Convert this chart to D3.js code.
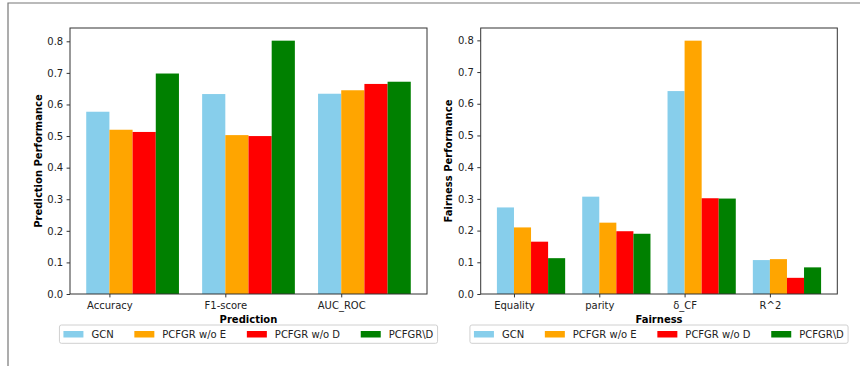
<!DOCTYPE html>
<html>
<head>
<meta charset="utf-8">
<script src="https://cdn.jsdelivr.net/npm/d3@7"></script>
<style>
  html, body { margin: 0; padding: 0; background: #fff; }
  svg { display: block; font-family: "DejaVu Sans", sans-serif; }
  .axis text { font-family: "DejaVu Sans", sans-serif; font-size: 10px; fill: #222; }
  .axis path, .axis line { stroke: #333; }
  .label { font-size: 10px; font-weight: bold; fill: #000; }
  .legend text { font-size: 10px; fill: #222; }
</style>
</head>
<body>
<svg id="chart" width="860" height="366"></svg>
<script>
(function () {
  "use strict";

  const models = ["GCN", "PCFGR w/o E", "PCFGR w/o D", "PCFGR\\D"];
  const colors = ["#87ceeb", "#ffa500", "#ff0000", "#008000"];

  const predMetrics = ["Accuracy", "F1-score", "AUC_ROC"];
  const predValues = [
    [0.577, 0.633, 0.634],
    [0.520, 0.503, 0.645],
    [0.513, 0.500, 0.665],
    [0.698, 0.802, 0.672]
  ];

  const fairMetrics = ["Equality", "parity", "\u03b4_CF", "R^2"];
  const fairValues = [
    [0.273, 0.307, 0.640, 0.107],
    [0.210, 0.225, 0.799, 0.110],
    [0.165, 0.198, 0.302, 0.051],
    [0.113, 0.190, 0.301, 0.084]
  ];

  const yTicks = [0, 0.1, 0.2, 0.3, 0.4, 0.5, 0.6, 0.7, 0.8];

  const svg = d3.select("#chart");

  // outer frame of the figure
  svg.append("path")
    .attr("d", "M8,366V3H860")
    .attr("fill", "none")
    .attr("stroke", "#777")
    .attr("stroke-width", 1.2);

  function panel(opts) {
    const { left, right, top, bottom, metrics, values, xTitle, yTitle, yTitleX } = opts;
    const barW = 0.2;
    const n = metrics.length;
    const lo = -barW, hi = (n - 1) + 3 * barW;
    const pad = (hi - lo) * 0.05;
    const x = d3.scaleLinear().domain([lo - pad, hi + pad]).range([left, right]);
    const yMax = d3.max(values.flat()) * 1.05;
    const y = d3.scaleLinear().domain([0, yMax]).range([bottom, top]);

    const g = svg.append("g");

    values.forEach((series, k) => {
      g.append("g")
        .selectAll("rect")
        .data(series)
        .join("rect")
        .attr("x", (d, i) => x(i + (k - 1) * barW))
        .attr("width", x(barW) - x(0))
        .attr("y", d => y(d))
        .attr("height", d => y(0) - y(d))
        .attr("fill", colors[k]);
    });

    g.append("g")
      .attr("class", "axis")
      .attr("transform", `translate(0,${bottom})`)
      .call(d3.axisBottom(x).tickValues(d3.range(n)).tickFormat(i => metrics[i]).tickSize(3.4).tickPadding(4.3).tickSizeOuter(0))
      .call(a => a.select(".domain").remove());

    g.append("g")
      .attr("class", "axis")
      .attr("transform", `translate(${left},0)`)
      .call(d3.axisLeft(y).tickValues(yTicks).tickFormat(d3.format(".1f")).tickSize(3.4).tickPadding(3.4).tickSizeOuter(0))
      .call(a => a.select(".domain").remove());

    g.append("rect")
      .attr("x", left).attr("y", top)
      .attr("width", right - left).attr("height", bottom - top)
      .attr("fill", "none")
      .attr("stroke", "#333")
      .attr("stroke-width", 1);

    g.append("text")
      .attr("class", "label")
      .attr("x", (left + right) / 2)
      .attr("y", 323)
      .attr("text-anchor", "middle")
      .text(xTitle);

    g.append("text")
      .attr("class", "label")
      .attr("transform", `translate(${yTitleX},${(top + bottom) / 2}) rotate(-90)`)
      .attr("dy", "0.35em")
      .attr("text-anchor", "middle")
      .text(yTitle);

    // legend
    const lg = g.append("g").attr("class", "legend");
    const box = lg.append("rect")
      .attr("fill", "#fff")
      .attr("stroke", "#d0d0d0")
      .attr("stroke-width", 1)
      .attr("rx", 2);
    let cx = 4;
    models.forEach((m, k) => {
      lg.append("rect")
        .attr("x", cx).attr("y", 331)
        .attr("width", 20).attr("height", 6.5)
        .attr("fill", colors[k]);
      const t = lg.append("text")
        .attr("x", cx + 28).attr("y", 334)
        .attr("dy", "0.35em")
        .text(m);
      cx += 28 + t.node().getComputedTextLength() + (k < models.length - 1 ? 20.7 : 4.3);
    });
    const lx = (left + right) / 2 - cx / 2;
    box.attr("x", 0).attr("y", 325).attr("width", cx).attr("height", 18.3);
    lg.attr("transform", `translate(${lx},0)`);
  }

  panel({
    left: 70, right: 427, top: 28, bottom: 294,
    metrics: predMetrics, values: predValues,
    xTitle: "Prediction", yTitle: "Prediction Performance", yTitleX: 38
  });

  panel({
    left: 480.7, right: 837.3, top: 28, bottom: 294,
    metrics: fairMetrics, values: fairValues,
    xTitle: "Fairness", yTitle: "Fairness Performance", yTitleX: 448
  });
})();
</script>
</body>
</html>
